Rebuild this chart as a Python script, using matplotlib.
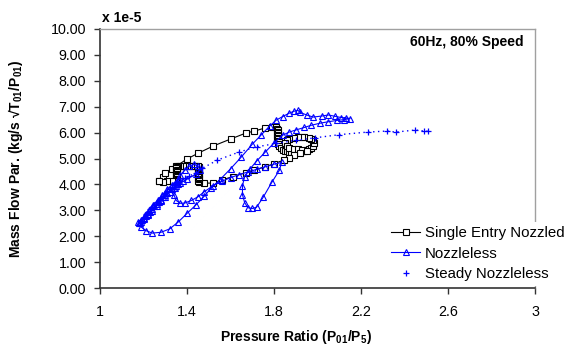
import matplotlib
matplotlib.use('Agg')
import matplotlib.pyplot as plt
from matplotlib.lines import Line2D

plt.rcParams['font.family'] = ['Liberation Sans', 'DejaVu Sans']
plt.rcParams['mathtext.fontset'] = 'custom'
plt.rcParams['mathtext.rm'] = 'Liberation Sans'
plt.rcParams['mathtext.bf'] = 'Liberation Sans:bold'

# single entry nozzled (x: pressure ratio, y: mass flow par. x 1e-5)
sen_x = [1.27, 1.29, 1.30, 1.33, 1.35, 1.40, 1.45, 1.52, 1.60, 1.67, 1.71, 1.76, 1.79, 1.81,
         1.815, 1.82, 1.815, 1.82, 1.815, 1.82, 1.815, 1.82, 1.818, 1.822, 1.818, 1.825, 1.83,
         1.84, 1.85, 1.86, 1.87, 1.88, 1.89, 1.90, 1.91, 1.92, 1.93, 1.94, 1.95, 1.96, 1.97,
         1.98, 1.985, 1.98, 1.97, 1.96, 1.94, 1.93, 1.91, 1.89, 1.87, 1.86,
         1.85, 1.86, 1.87, 1.89, 1.91, 1.93, 1.95,
         1.92, 1.89, 1.87, 1.845, 1.80, 1.76, 1.71, 1.67, 1.61, 1.56, 1.52, 1.48, 1.455,
         1.45, 1.455, 1.45, 1.455, 1.45, 1.455, 1.45, 1.455, 1.45, 1.455, 1.45, 1.455, 1.45,
         1.44, 1.43, 1.42, 1.41, 1.40, 1.39, 1.38, 1.37, 1.36,
         1.355, 1.35, 1.355, 1.35, 1.355, 1.35, 1.355, 1.35, 1.355, 1.35, 1.355, 1.35,
         1.33, 1.31, 1.29, 1.27]
sen_y = [4.15, 4.30, 4.45, 4.60, 4.70, 4.98, 5.20, 5.48, 5.75, 5.98, 6.06, 6.18, 6.22, 6.20,
         6.15, 6.10, 6.04, 5.98, 5.92, 5.86, 5.80, 5.74, 5.68, 5.62, 5.56, 5.48, 5.40,
         5.34, 5.30, 5.28, 5.26, 5.24, 5.25, 5.26, 5.26, 5.27, 5.28, 5.30, 5.32, 5.36, 5.42,
         5.50, 5.60, 5.70, 5.76, 5.80, 5.83, 5.84, 5.82, 5.80, 5.76, 5.70,
         5.58, 5.48, 5.42, 5.38, 5.35, 5.32, 5.30,
         5.20, 5.12, 5.02, 4.94, 4.80, 4.68, 4.56, 4.45, 4.30, 4.17, 4.05, 4.05, 4.10,
         4.15, 4.20, 4.25, 4.30, 4.35, 4.40, 4.45, 4.50, 4.55, 4.60, 4.64, 4.68, 4.70,
         4.70, 4.72, 4.70, 4.72, 4.70, 4.72, 4.70, 4.72, 4.70,
         4.66, 4.62, 4.57, 4.52, 4.47, 4.42, 4.37, 4.32, 4.27, 4.22, 4.18, 4.15,
         4.15, 4.12, 4.10, 4.15]

# nozzleless
noz_x = [1.185, 1.19, 1.21, 1.24, 1.28, 1.32, 1.36, 1.40, 1.44, 1.48, 1.51, 1.55, 1.60, 1.65,
         1.70, 1.74, 1.78, 1.81, 1.84, 1.87, 1.89, 1.91, 1.92,
         1.95, 1.98, 2.02, 2.05, 2.08, 2.11, 2.13, 2.15,
         2.12, 2.09, 2.05, 2.01, 1.97, 1.94, 1.90, 1.87, 1.84,
         1.80, 1.76, 1.72, 1.69, 1.665,
         1.655, 1.655, 1.665, 1.68, 1.70, 1.72, 1.75, 1.79, 1.825, 1.835,
         1.80, 1.76, 1.72, 1.68, 1.64, 1.60, 1.56, 1.52, 1.48, 1.45, 1.42, 1.39, 1.37, 1.35,
         1.34, 1.345, 1.355, 1.37, 1.39, 1.41, 1.43, 1.45, 1.46, 1.44,
         1.40, 1.37, 1.35, 1.33, 1.31, 1.30, 1.29, 1.28, 1.27, 1.26, 1.25, 1.24, 1.23, 1.22,
         1.21, 1.20, 1.195, 1.19, 1.18,
         1.20, 1.22, 1.24, 1.26, 1.28, 1.30, 1.32, 1.34, 1.36, 1.38,
         1.36, 1.33, 1.31, 1.285, 1.265, 1.245, 1.225, 1.205, 1.19, 1.175]
noz_y = [2.50, 2.35, 2.22, 2.12, 2.15, 2.28, 2.55, 2.88, 3.20, 3.55, 3.85, 4.17, 4.60, 5.06,
         5.55, 5.90, 6.25, 6.48, 6.62, 6.75, 6.82, 6.86, 6.78,
         6.68, 6.60, 6.64, 6.68, 6.63, 6.58, 6.57, 6.54,
         6.50, 6.47, 6.42, 6.36, 6.28, 6.20, 6.10, 6.02, 5.90,
         5.60, 5.25, 4.90, 4.60, 4.30,
         3.95, 3.60, 3.30, 3.10, 3.07, 3.12, 3.50, 4.08, 4.55, 4.85,
         4.78, 4.68, 4.58, 4.48, 4.38, 4.26, 4.12, 3.95, 3.72, 3.52, 3.38, 3.28, 3.27, 3.38,
         3.60, 3.85, 4.10, 4.35, 4.55, 4.70, 4.77, 4.72, 4.55, 4.40,
         4.20, 4.05, 3.95, 3.82, 3.68, 3.58, 3.50, 3.40, 3.32, 3.25, 3.15, 3.05, 2.95, 2.85,
         2.78, 2.70, 2.62, 2.55, 2.50,
         2.65, 2.80, 2.98, 3.15, 3.35, 3.52, 3.70, 3.88, 4.02, 4.15,
         4.22, 3.98, 3.82, 3.58, 3.38, 3.22, 3.02, 2.82, 2.64, 2.56]

# steady nozzleless
std_x = [1.19, 1.20, 1.21, 1.22, 1.23, 1.24, 1.25, 1.26, 1.27, 1.28, 1.29, 1.30, 1.31, 1.32,
         1.33, 1.34, 1.35, 1.37, 1.39, 1.41, 1.44, 1.47, 1.54, 1.64, 1.72, 1.81, 1.90,
         1.99, 2.10, 2.23, 2.32, 2.36, 2.45, 2.49, 2.51]
std_y = [2.60, 2.72, 2.85, 2.95, 3.05, 3.12, 3.22, 3.32, 3.40, 3.48, 3.56, 3.66, 3.74, 3.82,
         3.90, 3.98, 4.05, 4.15, 4.24, 4.32, 4.45, 4.62, 4.94, 5.25, 5.45, 5.58, 5.70,
         5.80, 5.92, 6.02, 6.06, 6.02, 6.10, 6.06, 6.05]

x_ticks = [1, 1.4, 1.8, 2.2, 2.6, 3]
x_labels = ['1', '1.4', '1.8', '2.2', '2.6', '3']
y_ticks = [0, 1, 2, 3, 4, 5, 6, 7, 8, 9, 10]

fig = plt.figure(figsize=(5.74, 3.49), dpi=100)
ax = fig.add_axes([100 / 574, 1 - 288 / 349, 435 / 574, 259 / 349])

l1, = ax.plot(sen_x, sen_y, color='black', lw=0.8, marker='s', ms=3.7, mfc='white',
              mec='black', mew=0.8, label='Single Entry Nozzled', zorder=3)
l2, = ax.plot(noz_x, noz_y, color='blue', lw=0.8, marker='^', ms=4.2, mfc='none',
              mec='blue', mew=0.8, label='Nozzleless', zorder=4)
ax.plot(std_x, std_y, color='blue', lw=1.0, ls=(0, (1, 2.5)), marker='+', ms=4,
        mew=0.9, zorder=4)

ax.set_xlim(1, 3)
ax.set_ylim(0, 10)
ax.set_xticks(x_ticks)
ax.set_xticklabels(x_labels)
ax.set_yticks(y_ticks)
ax.set_yticklabels(['%.2f' % v for v in y_ticks])
ax.tick_params(axis='both', direction='out', length=4, width=1, colors='#333333',
               labelsize=10.3, labelcolor='black')
ax.tick_params(axis='x', pad=8)
ax.tick_params(axis='y', pad=6)

for s in ['left', 'bottom']:
    ax.spines[s].set_color('#333333')
    ax.spines[s].set_linewidth(1.2)
for s in ['top', 'right']:
    ax.spines[s].set_color('#a0a0a0')
    ax.spines[s].set_linewidth(1.0)

ax.set_xlabel(r'Pressure Ratio (P$_\mathbf{01}$/P$_\mathbf{5}$)', fontsize=10, fontweight='bold')
ax.xaxis.set_label_coords(196 / 435, -0.155)
ax.set_ylabel(r'Mass Flow Par. (kg/s √T$_\mathbf{01}$/P$_\mathbf{01}$)', fontsize=10,
              fontweight='bold')
ax.yaxis.set_label_coords(-0.172, 0.5)

fig.text(102 / 574, 1 - 18 / 349, 'x 1e-5', fontsize=10, fontweight='bold',
         ha='left', va='center')
ax.text(0.975, 0.95, '60Hz, 80% Speed', transform=ax.transAxes, fontsize=10,
        fontweight='bold', ha='right', va='center')

# legend: steady entry shows only the marker
l3 = Line2D([], [], color='blue', ls='none', marker='+', ms=4, mew=0.9)
ax.legend([l1, l2, l3], ['Single Entry Nozzled', 'Nozzleless', 'Steady Nozzleless'],
          loc='lower right', bbox_to_anchor=(1.096, -0.02), fontsize=10.8,
          frameon=True, facecolor='white', edgecolor='none', framealpha=1,
          fancybox=False, handlelength=1.95, handletextpad=0.33,
          labelspacing=0.43, borderpad=0.3)

fig.savefig('out.png', dpi=100)
